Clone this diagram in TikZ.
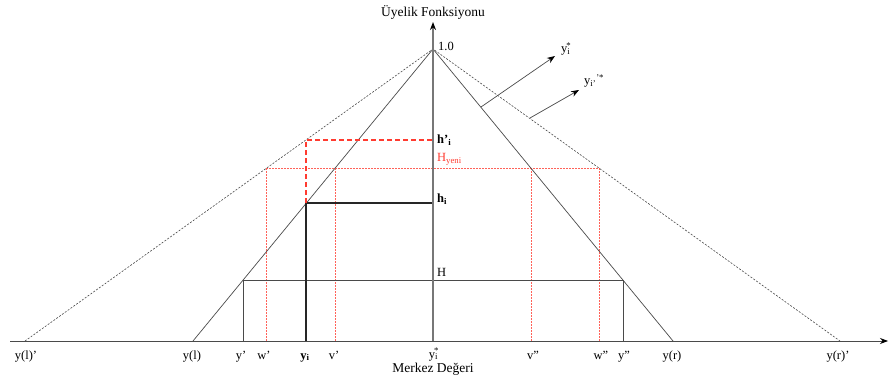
\documentclass[tikz,border=0pt]{standalone}
\usepackage{fontspec}
\setmainfont{Liberation Serif}
\usetikzlibrary{arrows.meta}
\definecolor{ln}{HTML}{4A4A4A}
\definecolor{ax}{HTML}{777777}
\definecolor{rd}{HTML}{FF3B30}
\tikzset{
  tri/.style={draw=ln, line width=0.7pt},
  outer/.style={draw=ln, line width=0.6pt, dash pattern=on 2pt off 1.5pt},
  hline/.style={draw=ln, line width=0.8pt},
  hbold/.style={draw=black!85, line width=1.6pt},
  reddash/.style={draw=rd, line width=1.6pt, dash pattern=on 5pt off 3pt},
  reddot/.style={draw=rd!80, line width=0.6pt, dash pattern=on 1.5pt off 1.5pt},
  axis/.style={draw=ax, line width=1.3pt, -{Stealth[length=8pt,width=6pt,color=black]}},
  pointer/.style={draw=ln, line width=0.7pt, -{Stealth[length=8pt,width=6pt,color=black]}},
  lbl/.style={font=\fontsize{12.5}{14}\selectfont, inner sep=0pt},
  blbl/.style={lbl, anchor=base},
}
\begin{document}
\begin{tikzpicture}[x=1pt,y=-1pt]
\useasboundingbox (0,0) rectangle (893,380);
% key coordinates
\coordinate (top) at (433,49);
\coordinate (O) at (433,341);
\coordinate (axL) at (10,341);
\coordinate (axR) at (888,341);
\coordinate (axT) at (433,22);
\coordinate (yl) at (193,341);
\coordinate (yr) at (673,341);
\coordinate (ylp) at (25,341);
\coordinate (yrp) at (840,341);
\coordinate (Hl) at (242.9,280);
\coordinate (Hr) at (623.1,280);
\coordinate (Hc) at (433,280);
\coordinate (yp) at (242.9,341);
\coordinate (ypp) at (623.1,341);
\coordinate (hil) at (306,203);
\coordinate (hic) at (433,203);
\coordinate (yi) at (306,341);
\coordinate (hpl) at (306,140);
\coordinate (hpc) at (433,140);
\coordinate (wl) at (266,168);
\coordinate (vl) at (335.2,168);
\coordinate (vr) at (530.8,168);
\coordinate (wr) at (599,168);
\coordinate (wlb) at (266,341);
\coordinate (vlb) at (335.2,341);
\coordinate (vrb) at (530.8,341);
\coordinate (wrb) at (599,341);
\coordinate (a1s) at (481,107);
\coordinate (a1e) at (555,56);
\coordinate (a2s) at (530,118);
\coordinate (a2e) at (579,90);

% red dotted H_yeni construction
\draw[reddot] (wl) -- (wr);
\draw[reddot] (wl) -- (wlb);
\draw[reddot] (vl) -- (vlb);
\draw[reddot] (vr) -- (vrb);
\draw[reddot] (wr) -- (wrb);

% triangles
\draw[outer] (ylp) -- (top) -- (yrp);
\draw[tri] (yl) -- (top) -- (yr);

% H level
\draw[hline] (Hl) -- (Hr);
\draw[hline] (Hl) -- (yp);
\draw[hline] (Hr) -- (ypp);

% h_i level
\draw[hbold] (yi) -- (hil) -- (hic);

% h'_i level
\draw[reddash] (hil) -- (hpl) -- (hpc);

% axes
\draw[axis] (O) -- (axT);
\draw[draw=ln, line width=0.8pt, -{Stealth[length=8pt,width=6pt,color=black]}] (axL) -- (axR);

% pointers
\draw[pointer] (a1s) -- (a1e);
\draw[pointer] (a2s) -- (a2e);

% labels
\node[lbl, font=\fontsize{13.5}{15}\selectfont] (ttl) at (433,12) {Üyelik Fonksiyonu};
\node[lbl, anchor=west] (one) at (438,46) {1.0};
\node[lbl, anchor=west] (ys) at (561,49) {y\textsubscript{i}\kern-0.32em\textsuperscript{*}};
\node[lbl, anchor=west] (yss) at (584,81) {y\textsubscript{i’}\textsuperscript{’*}};
\node[lbl, anchor=west] (hp) at (437,140) {\textbf{h’}\textsubscript{\textbf{i}}};
\node[lbl, anchor=west, text=rd] (hy) at (437,159) {H\textsubscript{yeni}};
\node[lbl, anchor=west] (hi) at (437,199) {\textbf{h}\textsubscript{\textbf{i}}};
\node[lbl, anchor=west] (Hlab) at (437,272) {H};

\node[blbl] (l1) at (26,359) {y(l)’};
\node[blbl] (l2) at (192,359) {y(l)};
\node[blbl] (l3) at (241,359) {y’};
\node[blbl] (l4) at (264,359) {w’};
\node[blbl] (l5) at (305,359) {\textbf{y}\textsubscript{\textbf{i}}};
\node[blbl] (l6) at (334,359) {v’};
\node[blbl] (l7) at (434,358) {y\textsubscript{i}\kern-0.32em\textsuperscript{*}};
\node[blbl] (l8) at (533,359) {v”};
\node[blbl] (l9) at (601,359) {w”};
\node[blbl] (l10) at (624,359) {y”};
\node[blbl] (l11) at (672,359) {y(r)};
\node[blbl] (l12) at (838,359) {y(r)’};
\node[lbl, font=\fontsize{13.5}{15}\selectfont] (mk) at (433,369.5) {Merkez Değeri};
\end{tikzpicture}
\end{document}
